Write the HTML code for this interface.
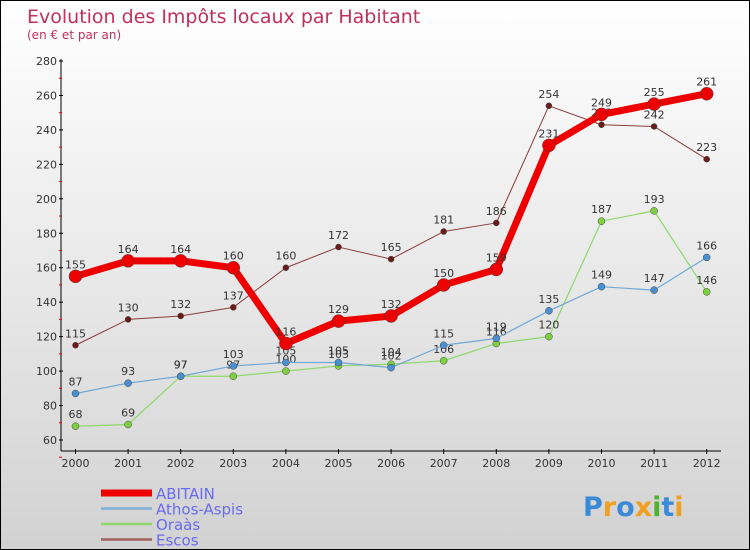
<!DOCTYPE html>
<html><head><meta charset="utf-8"><style>
body{margin:0}
#c{width:748px;height:548px;border:1px solid #000;background:linear-gradient(#fff,#d2d2d2);position:relative;font-family:"DejaVu Sans","Liberation Sans",sans-serif}
</style></head><body>
<div id="c">
<svg id="s" width="748" height="548" style="position:absolute;left:0;top:0"></svg>
</div>
<script>
const years=["2000","2001","2002","2003","2004","2005","2006","2007","2008","2009","2010","2011","2012"];
const abitain=[155,164,164,160,116,129,132,150,159,231,249,255,261];
const athos=[87,93,97,103,105,105,102,115,119,135,149,147,166];
const oraas=[68,69,97,97,100,103,104,106,116,120,187,193,146];
const escos=[115,130,132,137,160,172,165,181,186,254,243,242,223];
const yTicks=[60,80,100,120,140,160,180,200,220,240,260,280];
const seriesNames=["ABITAIN","Athos-Aspis","Oraàs","Escos"];
const NS="http://www.w3.org/2000/svg",s=document.getElementById('s');
function X(i){return 74.5+i*52.6;}
function Y(v){return 439-(v-60)*(379/220);}
function el(t,a,txt,p){const e=document.createElementNS(NS,t);for(const k in a)e.setAttribute(k,a[k]);if(txt!==undefined)e.textContent=txt;(p||s).appendChild(e);return e;}
// title
let t=el('text',{x:26,y:22,fill:'#c0305a','font-size':19},'Evolution des Impôts locaux par Habitant');

t=el('text',{x:26,y:38,fill:'#c0305a','font-size':12},'(en € et par an)');

// axes
let a=el('line',{x1:60,y1:58,x2:60,y2:450,stroke:'#000','stroke-width':1});

a=el('line',{x1:60,y1:450,x2:720,y2:450,stroke:'#000','stroke-width':1});

yTicks.forEach(v=>{const y=Y(v);
 el('line',{x1:58,y1:y,x2:62,y2:y,stroke:'#000'});
 el('line',{x1:58,y1:y+17.2,x2:61,y2:y+17.2,stroke:'#e00'});
 const l=el('text',{x:56,y:y+4,'text-anchor':'end','font-size':11,fill:'#333'},v);
 });
years.forEach((yr,i)=>{const x=X(i);
 el('line',{x1:x,y1:448,x2:x,y2:453,stroke:'#000'});
 const l=el('text',{x:x,y:466,'text-anchor':'middle','font-size':11,fill:'#333'},yr);
 });
function series(data,color,w,r,dot,name){
 const g=el('g',{});
 el('polyline',{points:data.map((v,i)=>X(i)+','+Y(v)).join(' '),fill:'none',stroke:color,'stroke-width':w,'stroke-linejoin':'round'},undefined,g);
 data.forEach((v,i)=>{const c=el('circle',{cx:X(i),cy:Y(v),r:r,fill:dot,stroke:'#444','stroke-width':0.5},undefined,g);
  
  const l=el('text',{x:X(i),y:Y(v)-8,'text-anchor':'middle','font-size':11,fill:'#333'},v,g);
  });
}
series(escos,'#8b3a3a',1,3,'#6b1a1a','escos');
series(oraas,'#8fd86a',1.2,3.5,'#7ed040','oraas');
series(athos,'#6fa8d8',1.2,3.5,'#4a90d0','athos-aspis');
series(abitain,'#ee0000',7,6.5,'#ee0000','abitain');
// legend
const lc=['#ee0000','#7fb0d8','#8fd86a','#a06060'],lw=[7,2.5,2.5,2.5];
seriesNames.forEach((n,i)=>{const y=492+i*15.5;
 const g=el('g',{});
 el('line',{x1:100,y1:y,x2:151,y2:y,stroke:lc[i],'stroke-width':lw[i]},undefined,g);
 el('text',{x:155,y:y+6,'font-size':15,fill:'#6a6af0'},n,g);});
// logo
const lg=el('text',{x:582,y:515,'font-size':27,'font-weight':'bold'});

[['P','#3a8ad8'],['r','#f0a020'],['o','#3a8ad8'],['x','#f0a020'],['i','#50b030'],['t','#3a8ad8'],['i','#f0a020']].forEach(([c,f])=>el('tspan',{fill:f},c,lg));
</script>
</body></html>
